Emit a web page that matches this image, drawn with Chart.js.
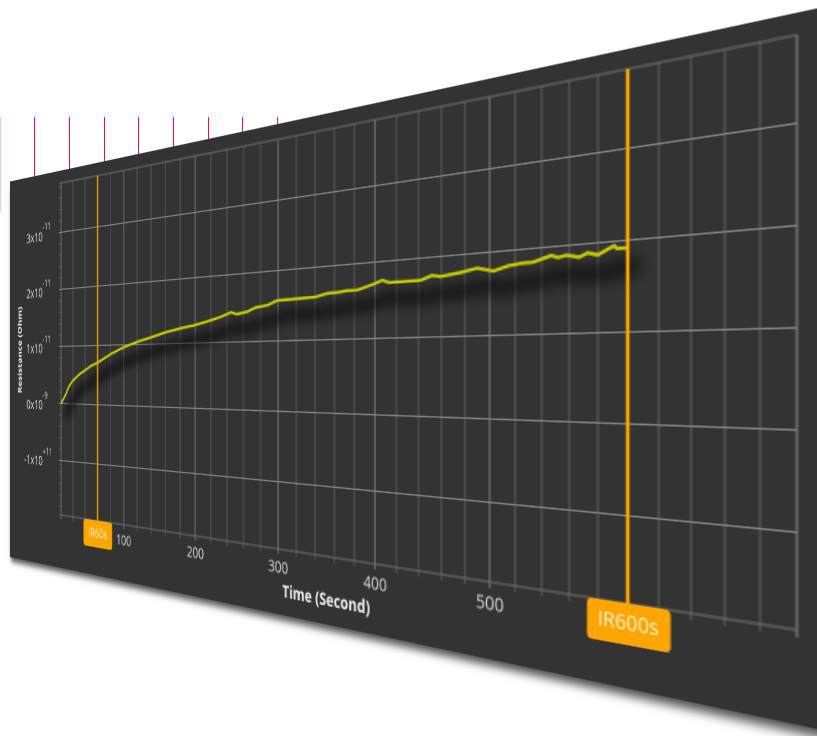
<!DOCTYPE html>
<html>
<head>
<meta charset="utf-8">
<title>Resistance over time</title>
<script src="https://cdn.jsdelivr.net/npm/chart.js@4/dist/chart.umd.min.js"></script>
<style>
  html, body { margin:0; padding:0; width:817px; height:736px; overflow:hidden; background:#fff; }
  #backLines { position:absolute; left:0; top:117px; }
  #panel { position:absolute; left:0; top:0; background:#333; transform-origin:0 0; box-shadow:0 6px 6px -2px rgba(0,0,0,.7); }
</style>
</head>
<body>
<canvas id="backLines" width="281" height="95"></canvas>
<canvas id="panel" width="822" height="383"></canvas>
<script>
// time in seconds, resistance in units of 10^-11
const times = [0,4,8,13,19,30,41,50,60,80,100,122,142,160,183,198,215,232,245,252,264,274,288,299,316,340,353,363,373,383,397,407,413,442,452,459,476,490,503,515,524,534,547,552,558,567,573,580,587,591,593,600];
const resistance = [0,0.08,0.16,0.295,0.39,0.507,0.59,0.66,0.71,0.85,0.96,1.05,1.115,1.18,1.24,1.27,1.32,1.38,1.44,1.41,1.435,1.49,1.515,1.575,1.58,1.59,1.63,1.635,1.65,1.65,1.705,1.755,1.72,1.72,1.77,1.75,1.78,1.82,1.77,1.82,1.835,1.84,1.90,1.87,1.89,1.855,1.895,1.865,1.92,1.95,1.92,1.915];

const xTicks = [0,20,40,60,80,100,120,140,160,180,200,220,240,260,280,300,320,340,360,380,400,420,440,460,480,500,520,540,560,580,600,620,640,660,680,700];
const xMajor = [0,100,200,300,400,500,600,700];
const xLabelled = [100,200,300,400,500];
const yMin = -1.95, yMax = 3.86;
const yTicks = [-1.95,-1.8,-1.6,-1.4,-1.2,-1,-0.8,-0.6,-0.4,-0.2,0,0.2,0.4,0.6,0.8,1,1.2,1.4,1.6,1.8,2,2.2,2.4,2.6,2.8,3,3.2,3.4,3.6,3.8,3.86];
const yMajor = [-1,0,1,2,3];
const yEdges = [-1.95,3.86];
const yLabelValues = [3,2,1,0,-1];
const yLabels = ['3x10','2x10','1x10','0x10','-1x10'];
const yExponents = ['-11','-11','-11','-9','+11'];
const markerTimes = [60,600];
const markerLabels = ['IR60s','IR600s'];
const markerWidths = [45,55];
const markerFonts = [12,13];
const markerColors = ['#e09a00','#ffa500'];
const backLineTicks = [-1,0,1,2,3,4,5,6,7];

// where the plot corners land in the photographed page (left-top, right-top, right-bottom, left-bottom)
const plotCorners = [[61,183],[797,35],[797,630],[61,515]];

const FONT = '"Open Sans", sans-serif';

// red lines of the sheet behind the panel
new Chart(document.getElementById('backLines'), {
  type:'scatter',
  data:{ datasets:[{ data:[] }] },
  options:{
    responsive:false, animation:false, layout:{ padding:0 },
    plugins:{ legend:{ display:false }, tooltip:{ enabled:false } },
    scales:{
      x:{ type:'linear', min:-1, max:7.1, border:{ display:false },
          afterBuildTicks(s){ s.ticks = backLineTicks.map(v=>({ value:v })); },
          afterFit(s){ s.height = 0; },
          ticks:{ display:false },
          grid:{ drawTicks:false, lineWidth:1, color:c=> c.tick && c.tick.value===-1 ? '#ffc4cf' : '#e8173f' } },
      y:{ display:false, min:0, max:1 }
    }
  }
});

const SHADOW_INDEX = 3;

const panelText = {
  id:'panelText',
  beforeDatasetDraw(chart, args){
    if(args.index !== SHADOW_INDEX) return;
    const ctx = chart.ctx, r = chart.currentDevicePixelRatio;
    ctx.save();
    ctx.filter = `blur(${5*r}px)`;
    ctx.translate(8,12);
  },
  afterDatasetDraw(chart, args){
    if(args.index === SHADOW_INDEX) chart.ctx.restore();
  },
  afterDraw(chart){
    const ctx = chart.ctx, xs = chart.scales.x, ys = chart.scales.y, area = chart.chartArea;
    ctx.save();
    // y labels with their exponents
    ctx.fillStyle = '#dcdcdc';
    ctx.textBaseline = 'middle';
    yLabelValues.forEach((v,i)=>{
      const py = ys.getPixelForValue(v);
      ctx.font = '13px '+FONT;
      ctx.textAlign = 'right';
      ctx.fillText(yLabels[i], area.left-32, py+2.5);
      ctx.font = '10px '+FONT;
      ctx.textAlign = 'left';
      ctx.fillText(yExponents[i], area.left-32, py-7);
    });
    // IR markers
    markerTimes.forEach((t,i)=>{
      const px = xs.getPixelForValue(t), w = markerWidths[i], h = 25;
      ctx.fillStyle = '#ffa500';
      ctx.beginPath();
      ctx.roundRect(px-w/2, area.bottom, w, h, 3);
      ctx.fill();
      ctx.fillStyle = '#fff4dc';
      ctx.font = markerFonts[i]+'px '+FONT;
      ctx.textAlign = 'center';
      ctx.fillText(markerLabels[i], px, area.bottom+h/2);
    });
    ctx.restore();
  }
};

const lineData = times.map((t,i)=>({ x:t, y:resistance[i] }));
const markerSets = markerTimes.map((t,i)=>({
  data:[{ x:t, y:yMin },{ x:t, y:yMax }],
  borderColor:markerColors[i], borderWidth:2.4, pointRadius:0, showLine:true
}));

const chart = new Chart(document.getElementById('panel'), {
  type:'scatter',
  data:{ datasets:[
    { data:lineData, borderColor:'#c8c800', borderWidth:2.3, pointRadius:0, showLine:true, tension:0 },
    ...markerSets,
    { data:lineData, borderColor:'rgba(0,0,0,0.85)', borderWidth:7, pointRadius:0, showLine:true, tension:0, clip:false }
  ]},
  options:{
    responsive:false, animation:false, devicePixelRatio:2,
    layout:{ padding:{ top:12, right:30, left:0, bottom:0 } },
    plugins:{ legend:{ display:false }, tooltip:{ enabled:false } },
    scales:{
      x:{
        type:'linear', min:0, max:700,
        afterBuildTicks(s){ s.ticks = xTicks.map(v=>({ value:v })); },
        afterFit(s){ s.height = 51; },
        border:{ display:false },
        grid:{ tickLength:4, lineWidth:1,
               color:c=> xMajor.includes(c.tick.value) ? '#858585' : '#5c5c5c',
               tickColor:c=> xMajor.includes(c.tick.value) ? '#858585' : '#5c5c5c' },
        ticks:{ autoSkip:false, maxRotation:0, padding:3, color:'#dcdcdc', font:{ family:FONT, size:13 },
                callback:v=> xLabelled.includes(v) ? String(v) : '' },
        title:{ display:true, text:'Time (Second)', color:'#eeeeee', font:{ family:FONT, size:13, weight:'bold' }, padding:{ top:0, bottom:10 } }
      },
      y:{
        type:'linear', min:yMin, max:yMax,
        afterBuildTicks(s){ s.ticks = yTicks.map(v=>({ value:v })); },
        afterFit(s){ s.width = 92; },
        border:{ display:false },
        grid:{ tickLength:4, lineWidth:1,
               color:c=> !c.tick ? 'rgba(0,0,0,0)' : yMajor.includes(c.tick.value) ? '#858585' : yEdges.includes(c.tick.value) ? '#6e6e6e' : 'rgba(0,0,0,0)',
               tickColor:c=> c.tick && yMajor.includes(c.tick.value) ? '#858585' : '#5c5c5c' },
        ticks:{ display:false },
        title:{ display:true, text:'Resistance (Ohm)', color:'#eeeeee', font:{ family:FONT, size:10, weight:'bold' }, padding:{ top:13, bottom:0 } }
      }
    }
  },
  plugins:[panelText]
});

// solve the flat canvas -> page homography and hand it to CSS
function homography(src, dst){
  const m = [];
  src.forEach((s,i)=>{
    const [u,v] = s, [x,y] = dst[i];
    m.push([u,v,1,0,0,0,-u*x,-v*x,x]);
    m.push([0,0,0,u,v,1,-u*y,-v*y,y]);
  });
  for(let c=0;c<8;c++){
    let p = c;
    for(let r=c+1;r<8;r++) if(Math.abs(m[r][c])>Math.abs(m[p][c])) p = r;
    [m[c],m[p]] = [m[p],m[c]];
    for(let r=0;r<8;r++){
      if(r===c) continue;
      const f = m[r][c]/m[c][c];
      for(let k=c;k<9;k++) m[r][k] -= f*m[c][k];
    }
  }
  return m.map((row,i)=> row[8]/row[i]);
}

const a = chart.chartArea;
const [h0,h1,h2,h3,h4,h5,h6,h7] = homography(
  [[a.left,a.top],[a.right,a.top],[a.right,a.bottom],[a.left,a.bottom]], plotCorners);
chart.canvas.style.transform = `matrix3d(${h0},${h3},0,${h6},${h1},${h4},0,${h7},0,0,1,0,${h2},${h5},0,1)`;
</script>
</body>
</html>
